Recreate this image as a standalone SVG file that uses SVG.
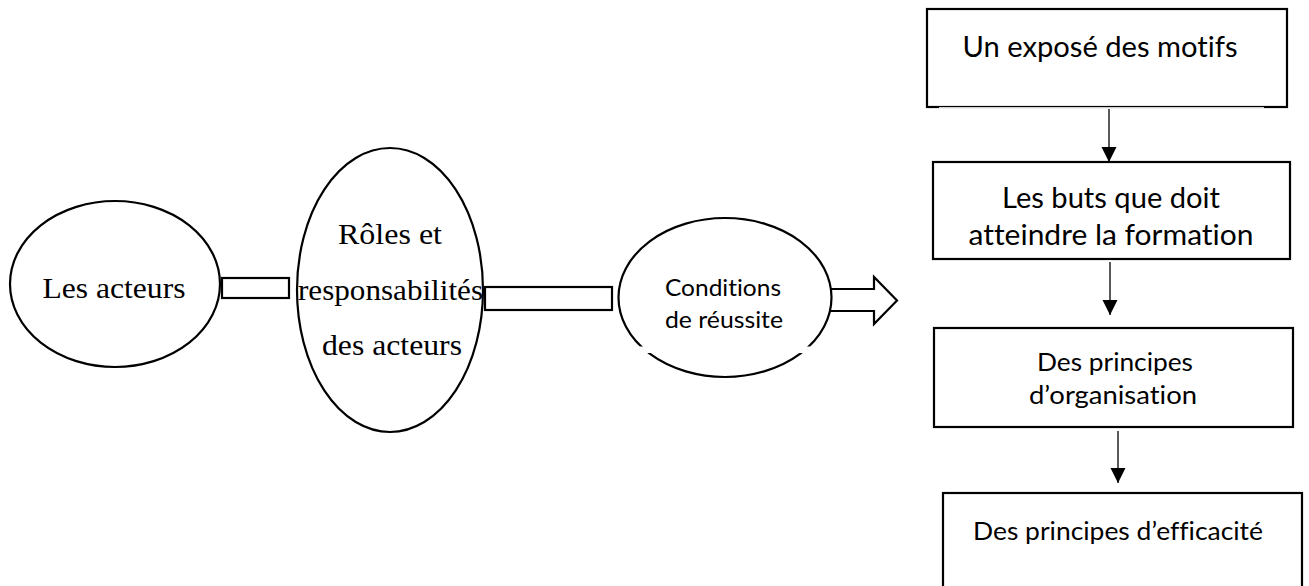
<svg xmlns="http://www.w3.org/2000/svg" width="1309" height="586" viewBox="0 0 1309 586">
<style>
.shape{fill:#fff;stroke:#000;stroke-width:2.2}
.conn{fill:#fff;stroke:#000;stroke-width:2.2}
.line{fill:none;stroke:#000;stroke-width:1.3}
text{font-variant-ligatures:none;font-feature-settings:"liga" 0,"clig" 0,"dlig" 0}
.serif{font-family:"Liberation Serif","Times New Roman",serif;font-size:29px;fill:#000;text-anchor:middle}
.sans{font-family:Lato,"Open Sans","Noto Sans",sans-serif;font-size:28.5px;fill:#000;text-anchor:middle}
.sans-s{font-family:Lato,"Open Sans","Noto Sans",sans-serif;font-size:25px;fill:#000;text-anchor:middle}
.sans-xs{font-family:Lato,"Open Sans","Noto Sans",sans-serif;font-size:23px;fill:#000;text-anchor:middle}
</style>
<defs>
<marker id="ah" markerUnits="userSpaceOnUse" markerWidth="16" markerHeight="16" refX="15" refY="7.5" orient="auto">
<path d="M0,0 L15,7.5 L0,15 z" fill="#000"/>
</marker>
</defs>
<rect width="1309" height="586" fill="#fff"/>
<g id="connectors">
<rect class="conn" x="222" y="278" width="67" height="20"/>
<rect class="conn" x="485" y="287" width="127" height="23"/>
<polygon class="conn" points="822,289 874,289 874,277 897,300.5 874,324 874,311 822,311"/>
<line class="line" x1="1109" y1="109" x2="1109" y2="162" marker-end="url(#ah)"/>
<line class="line" x1="1110" y1="262" x2="1110" y2="315" marker-end="url(#ah)"/>
<line class="line" x1="1118" y1="431" x2="1118" y2="483" marker-end="url(#ah)"/>
</g>
<g id="node-acteurs">
<ellipse class="shape" cx="115" cy="284" rx="105" ry="83"/>
<text class="serif" x="114" y="298" textLength="143" lengthAdjust="spacingAndGlyphs">Les acteurs</text>
</g>
<g id="node-roles">
<ellipse class="shape" cx="390" cy="290" rx="93" ry="142"/>
<text class="serif" x="390" y="244" textLength="104" lengthAdjust="spacingAndGlyphs">Rôles et</text>
<text class="serif" x="390.5" y="300" textLength="185" lengthAdjust="spacingAndGlyphs">responsabilités</text>
<text class="serif" x="392" y="355" textLength="140" lengthAdjust="spacingAndGlyphs">des acteurs</text>
</g>
<g id="node-conditions">
<ellipse class="shape" cx="725" cy="297.5" rx="106.5" ry="79.5"/>
<rect x="638" y="346.5" width="180" height="6.5" fill="#fff"/>
<text class="sans-xs" x="723" y="296" textLength="116" lengthAdjust="spacingAndGlyphs">Conditions</text>
<text class="sans-xs" x="724" y="328" textLength="118" lengthAdjust="spacingAndGlyphs">de réussite</text>
</g>
<g id="node-motifs">
<rect class="shape" x="927" y="9" width="360" height="98"/>
<rect x="939" y="107.2" width="325" height="1.2" fill="#fff"/>
<text class="sans" x="1100" y="57" textLength="275" lengthAdjust="spacingAndGlyphs">Un exposé des motifs</text>
</g>
<g id="node-buts">
<rect class="shape" x="933" y="162" width="357" height="97"/>
<text class="sans" x="1111" y="208" textLength="218" lengthAdjust="spacingAndGlyphs">Les buts que doit</text>
<text class="sans" x="1111" y="245" textLength="285" lengthAdjust="spacingAndGlyphs">atteindre la formation</text>
</g>
<g id="node-organisation">
<rect class="shape" x="934" y="328" width="359" height="99"/>
<text class="sans-s" x="1115" y="371" textLength="156" lengthAdjust="spacingAndGlyphs">Des principes</text>
<text class="sans-s" x="1113" y="404" textLength="168" lengthAdjust="spacingAndGlyphs">d’organisation</text>
</g>
<g id="node-efficacite">
<rect class="shape" x="943" y="493" width="359" height="120"/>
<text class="sans-s" x="1118" y="540" textLength="290" lengthAdjust="spacingAndGlyphs">Des principes d’efficacité</text>
</g>
</svg>
